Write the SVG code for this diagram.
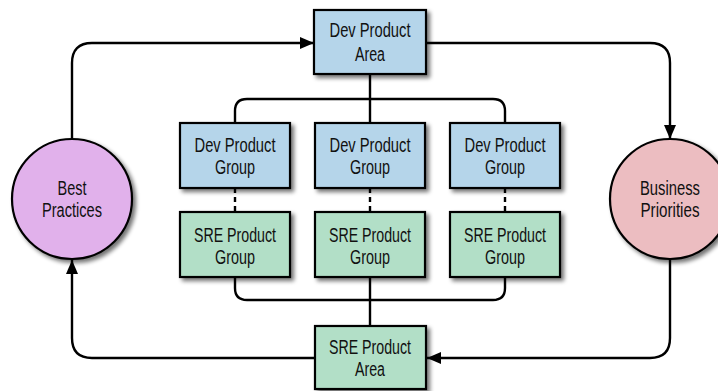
<svg xmlns="http://www.w3.org/2000/svg" width="718" height="391" viewBox="0 0 718 391">
  <defs>
    <filter id="shadow" x="-20%" y="-20%" width="150%" height="150%">
      <feGaussianBlur in="SourceAlpha" stdDeviation="2"/>
      <feOffset dx="3" dy="3" result="off"/>
      <feComponentTransfer><feFuncA type="linear" slope="0.55"/></feComponentTransfer>
      <feMerge><feMergeNode/><feMergeNode in="SourceGraphic"/></feMerge>
    </filter>
    <marker id="arrow" markerUnits="userSpaceOnUse" markerWidth="14" markerHeight="14" viewBox="0 0 14 14" refX="14" refY="7" orient="auto">
      <path d="M0,1 L14,7 L0,13 Z" fill="#000"/>
    </marker>
  </defs>
  <style>
    .dev { fill: #b5d5ea; stroke: #000; stroke-width: 2.2; filter: url(#shadow); }
    .sre { fill: #b2dfc7; stroke: #000; stroke-width: 2.2; filter: url(#shadow); }
    .best { fill: #e1b1eb; stroke: #000; stroke-width: 2.2; filter: url(#shadow); }
    .biz { fill: #ecbdc1; stroke: #000; stroke-width: 2.2; filter: url(#shadow); }
    text { font-family: "Liberation Sans Narrow", "Liberation Sans", Arial, sans-serif; font-size: 19.5px; fill: #111; text-anchor: middle; }
    .line { fill: none; stroke: #000; stroke-width: 2.4; }
    .dash { fill: none; stroke: #000; stroke-width: 2.4; stroke-dasharray: 5 4; }
    .flow { fill: none; stroke: #000; stroke-width: 2.4; marker-end: url(#arrow); }
  </style>

  <rect width="718" height="391" fill="#fff"/>

  <!-- connectors -->
  <g id="connectors">
    <!-- area to product group bus -->
    <path class="line" d="M370,74 V123"/>
    <path class="line" d="M235,123 V111 Q235,99 247,99 H493 Q505,99 505,111 V123"/>
    <!-- product group bus to SRE area -->
    <path class="line" d="M370,277 V326"/>
    <path class="line" d="M235,277 V288 Q235,300 247,300 H493 Q505,300 505,288 V277"/>
    <!-- dev/sre pairing -->
    <path class="dash" d="M235,188 V212"/>
    <path class="dash" d="M370,188 V212"/>
    <path class="dash" d="M505,188 V212"/>
    <!-- outer cycle -->
    <path class="flow" d="M72,138 V63 Q72,43 92,43 H314"/>
    <path class="flow" d="M426,43 H650 Q670,43 670,63 V139"/>
    <path class="flow" d="M670,259 V338 Q670,358 650,358 H427"/>
    <path class="flow" d="M315,358 H92 Q72,358 72,338 V260"/>
  </g>

  <g id="dev-product-area">
    <rect class="dev" x="314" y="10" width="112" height="64"/>
    <text x="370" y="37" textLength="81" lengthAdjust="spacingAndGlyphs">Dev Product</text>
    <text x="370" y="61" textLength="30" lengthAdjust="spacingAndGlyphs">Area</text>
  </g>

  <g id="dev-product-group-1">
    <rect class="dev" x="180" y="123" width="110" height="65"/>
    <text x="235" y="152" textLength="81" lengthAdjust="spacingAndGlyphs">Dev Product</text>
    <text x="235" y="174" textLength="40" lengthAdjust="spacingAndGlyphs">Group</text>
  </g>
  <g id="dev-product-group-2">
    <rect class="dev" x="315" y="123" width="110" height="65"/>
    <text x="370" y="152" textLength="81" lengthAdjust="spacingAndGlyphs">Dev Product</text>
    <text x="370" y="174" textLength="40" lengthAdjust="spacingAndGlyphs">Group</text>
  </g>
  <g id="dev-product-group-3">
    <rect class="dev" x="450" y="123" width="110" height="65"/>
    <text x="505" y="152" textLength="81" lengthAdjust="spacingAndGlyphs">Dev Product</text>
    <text x="505" y="174" textLength="40" lengthAdjust="spacingAndGlyphs">Group</text>
  </g>

  <g id="sre-product-group-1">
    <rect class="sre" x="180" y="212" width="110" height="65"/>
    <text x="235" y="242" textLength="82" lengthAdjust="spacingAndGlyphs">SRE Product</text>
    <text x="235" y="264" textLength="40" lengthAdjust="spacingAndGlyphs">Group</text>
  </g>
  <g id="sre-product-group-2">
    <rect class="sre" x="315" y="212" width="110" height="65"/>
    <text x="370" y="242" textLength="82" lengthAdjust="spacingAndGlyphs">SRE Product</text>
    <text x="370" y="264" textLength="40" lengthAdjust="spacingAndGlyphs">Group</text>
  </g>
  <g id="sre-product-group-3">
    <rect class="sre" x="450" y="212" width="110" height="65"/>
    <text x="505" y="242" textLength="82" lengthAdjust="spacingAndGlyphs">SRE Product</text>
    <text x="505" y="264" textLength="40" lengthAdjust="spacingAndGlyphs">Group</text>
  </g>

  <g id="sre-product-area">
    <rect class="sre" x="315" y="326" width="111" height="63"/>
    <text x="370" y="354" textLength="82" lengthAdjust="spacingAndGlyphs">SRE Product</text>
    <text x="370" y="376" textLength="30" lengthAdjust="spacingAndGlyphs">Area</text>
  </g>

  <g id="best-practices">
    <circle class="best" cx="72" cy="199" r="60"/>
    <text x="72" y="195" textLength="29" lengthAdjust="spacingAndGlyphs">Best</text>
    <text x="72" y="217" textLength="60" lengthAdjust="spacingAndGlyphs">Practices</text>
  </g>

  <g id="business-priorities">
    <circle class="biz" cx="670" cy="199" r="60"/>
    <text x="670" y="195" textLength="60" lengthAdjust="spacingAndGlyphs">Business</text>
    <text x="670" y="217" textLength="59" lengthAdjust="spacingAndGlyphs">Priorities</text>
  </g>
</svg>
